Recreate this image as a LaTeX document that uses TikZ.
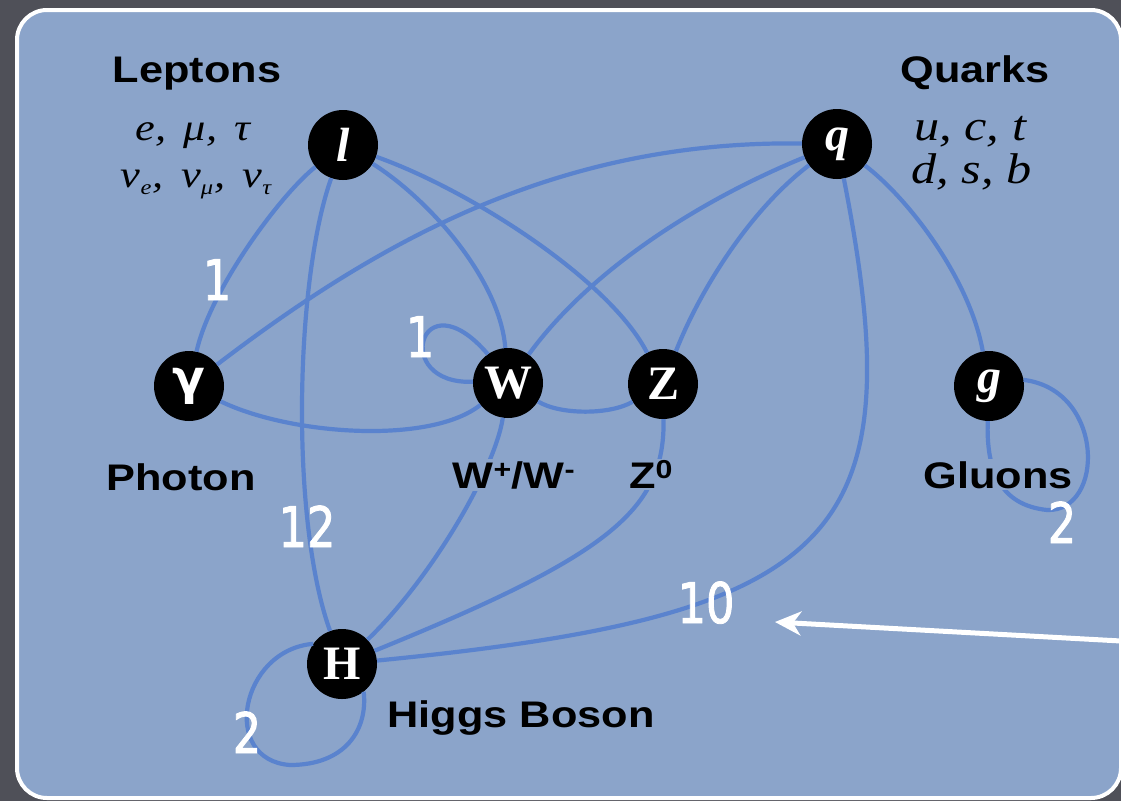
\documentclass[tikz,border=0pt]{standalone}
\usepackage{fontspec}
\usepackage{graphicx}
\setmainfont{Liberation Serif}
\newfontfamily\labfont[FakeStretch=1.17]{Liberation Sans}
\newfontfamily\itfont[FakeStretch=1.17]{Liberation Serif}
\newfontfamily\numfont[FakeStretch=0.8,FakeBold=1.5]{DejaVu Sans}
\newfontfamily\greekfont{DejaVu Sans}
\usetikzlibrary{arrows.meta}
\definecolor{bgdark}{HTML}{4F5058}
\definecolor{panelblue}{HTML}{8BA4CA}
\definecolor{edgeblue}{HTML}{5A83CE}
\newcommand\lsub[1]{\raisebox{-7pt}{\fontsize{21}{21}\selectfont #1}}
\begin{document}
\begin{tikzpicture}[x=1pt,y=-1pt,
  particle/.style={circle,fill=black,minimum size=70pt,inner sep=0pt,text=white,font=\fontsize{48}{48}\selectfont\bfseries},
  edgeline/.style={draw=edgeblue,line width=4.2pt},
  capt/.style={font=\labfont\bfseries\fontsize{37}{40}\selectfont,anchor=base,fill=panelblue,inner sep=2pt},
  numlabel/.style={font=\numfont\fontsize{56}{56}\selectfont,text=white,anchor=base,inner sep=0pt},
  famtext/.style={font=\itfont\itshape\fontsize{38}{40}\selectfont,anchor=base,inner sep=0pt},
  quarktext/.style={font=\itfont\itshape\fontsize{43}{44}\selectfont,anchor=base west,inner sep=0pt}
]
\useasboundingbox (0,0) rectangle (1121,801);
\fill[bgdark] (0,0) rectangle (1121,801);
\draw[white,line width=4pt,fill=panelblue,rounded corners=30pt] (17,10) rectangle (1121,798);

% particles
\node[particle] (l) at (343,145) {\itshape l};
\node[particle] (q) at (837,144) {\itshape q};
\node[particle] (ga) at (189,386) {\greekfont\bfseries γ};
\node[particle] (W) at (508,383) {W};
\node[particle] (Z) at (663,384) {Z};
\node[particle] (g) at (989,386) {\itshape g};
\node[particle] (H) at (342,664) {H};

% interactions
\draw[edgeline] (l) .. controls (280,195) and (210,290) .. (ga);
\draw[edgeline] (l) .. controls (295,280) and (290,520) .. (H);
\draw[edgeline] (l) .. controls (430,200) and (500,280) .. (W);
\draw[edgeline] (l) .. controls (470,190) and (610,280) .. (Z);
\draw[edgeline] (ga) .. controls (380,240) and (560,140) .. (q);
\draw[edgeline] (W) .. controls (590,270) and (700,200) .. (q);
\draw[edgeline] (Z) .. controls (700,290) and (750,210) .. (q);
\draw[edgeline] (q) .. controls (915,540) and (840,615) .. (H);
\draw[edgeline] (q) .. controls (910,200) and (970,280) .. (g);
\draw[edgeline] (ga) .. controls (290,435) and (430,445) .. (W);
\draw[edgeline] (W) .. controls (560,415) and (610,415) .. (Z);
\draw[edgeline] (W) .. controls (495,470) and (430,580) .. (H);
\draw[edgeline] (Z) .. controls (665,510) and (610,555) .. (H);
\draw[edgeline] (W.178) .. controls (390,385) and (420,275) .. (W.125);
\draw[edgeline] (H.145) .. controls (240,650) and (220,760) .. (290,765) .. controls (345,765) and (368,730) .. (H.-52);
\draw[edgeline] (g.-92) .. controls (986,470) and (1000,505) .. (1047,510) .. controls (1105,512) and (1105,390) .. (g.10);

% captions
\node[capt] (leptons) at (197,82) {Leptons};
\node[famtext] (lep1) at (193,140) {e,\, μ,\, τ};
\node[famtext] (lep2) at (196,187) {ν\lsub{e}\kern1pt,\, ν\lsub{μ}\kern1pt,\, ν\lsub{τ}};
\node[capt] (quarks) at (975,82) {Quarks};
\node[quarktext] (qk1) at (914,140) {u, c, t};
\node[quarktext] (qk2) at (911,183) {d, s, b};
\node[capt] (photon) at (181,490) {Photon};
\node[capt] (wlab) at (514,488) {W\textsuperscript{+}/W\textsuperscript{-}};
\node[capt] (zlab) at (651,488) {Z\textsuperscript{0}};
\node[capt] (gluons) at (998,488) {Gluons};
\node[capt] (higgs) at (521,727) {Higgs Boson};

% counts
\node[numlabel] (n1) at (217,300) {1};
\node[numlabel] (n2) at (420,357) {1};
\node[numlabel] (n3) at (307,547) {12};
\node[numlabel] (n4) at (1062,543) {2};
\node[numlabel] (n5) at (706,623) {10};
\node[numlabel] (n6) at (247,753) {2};

% arrow
\coordinate (arrowtail) at (1121,641);
\coordinate (arrowtip) at (775,622);
\draw[white,line width=5pt,-{Stealth[length=26pt,width=24pt,inset=8pt]}] (arrowtail) -- (arrowtip);
\end{tikzpicture}
\end{document}
